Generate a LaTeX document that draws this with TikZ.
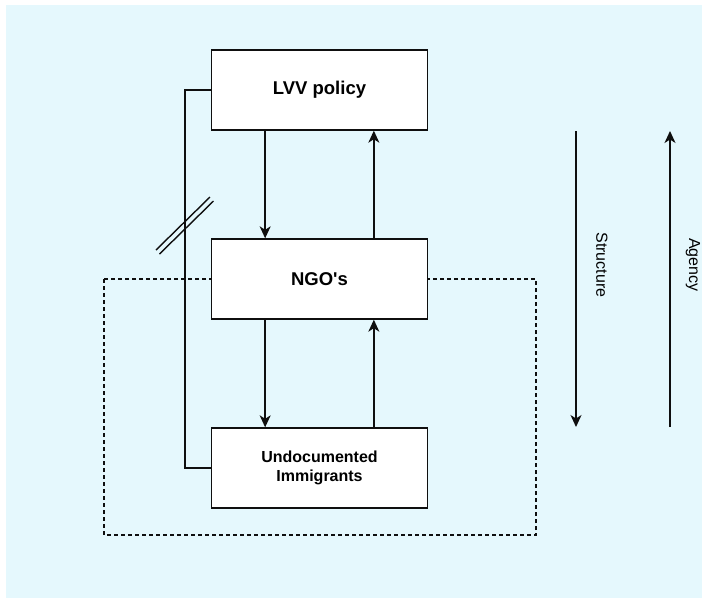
\documentclass[tikz,border=0pt]{standalone}
\usepackage{fontspec}
\setmainfont[Ligatures={NoCommon}]{Liberation Sans}
\usetikzlibrary{arrows.meta,calc}
\definecolor{bgcyan}{RGB}{229,248,253}
\definecolor{linegray}{RGB}{15,15,15}
\tikzset{
  box/.style={draw=linegray, line width=1.4pt, fill=white, minimum width=216pt, minimum height=80pt, inner sep=0pt, align=center, font=\bfseries},
  conn/.style={draw=linegray, line width=1.4pt},
  arr/.style={conn, -{Stealth[length=12pt,width=11pt,inset=3.5pt]}},
  dashbox/.style={draw=linegray, line width=1.2pt, dash pattern=on 4pt off 3pt},
  sidelbl/.style={font=\fontsize{16}{19}\selectfont, rotate=-90}
}
\begin{document}
\begin{tikzpicture}[x=1pt,y=-1pt]
\useasboundingbox (0,0) rectangle (702,598);
\fill[bgcyan] (6,5) rectangle (702,598);
% dashed grouping frame
\coordinate (d1) at (104,279);
\coordinate (d2) at (536,535);
\draw[dashbox] (d1) rectangle (d2);
% boxes
\node[box, font=\bfseries\fontsize{18.5}{21}\selectfont] (lvv) at (319.5,90) {LVV policy};
\node[box, font=\bfseries\fontsize{18.5}{21}\selectfont] (ngo) at (319.5,279) {NGO\textquotesingle s};
\node[box, font=\bfseries\fontsize{16}{19}\selectfont] (und) at (319.5,468) {Undocumented\\Immigrants};
% side connector
\coordinate (c1) at (185,90);
\coordinate (c2) at (185,468);
\draw[conn] (lvv.west) -- (c1) -- (c2) -- (und.west);
% slash marks
\coordinate (sa1) at (156,250);
\coordinate (sa2) at (210,197);
\coordinate (sb1) at (159.5,254);
\coordinate (sb2) at (213.5,201);
\draw[conn] (sa1) -- (sa2);
\draw[conn] (sb1) -- (sb2);
% vertical arrows between boxes
\draw[arr] ($(lvv.south west)!0.25!(lvv.south east)$) -- ($(ngo.north west)!0.25!(ngo.north east)$);
\draw[arr] ($(ngo.north west)!0.75!(ngo.north east)$) -- ($(lvv.south west)!0.75!(lvv.south east)$);
\draw[arr] ($(ngo.south west)!0.25!(ngo.south east)$) -- ($(und.north west)!0.25!(und.north east)$);
\draw[arr] ($(und.north west)!0.75!(und.north east)$) -- ($(ngo.south west)!0.75!(ngo.south east)$);
% structure / agency
\coordinate (s1) at (576,131);
\coordinate (s2) at (576,427);
\coordinate (a1) at (670,427);
\coordinate (a2) at (670,131);
\draw[arr] (s1) -- (s2);
\draw[arr] (a1) -- (a2);
\node[sidelbl] (slbl) at (602,265) {Structure};
\node[sidelbl] (albl) at (693,265) {Agency};
\end{tikzpicture}
\end{document}
